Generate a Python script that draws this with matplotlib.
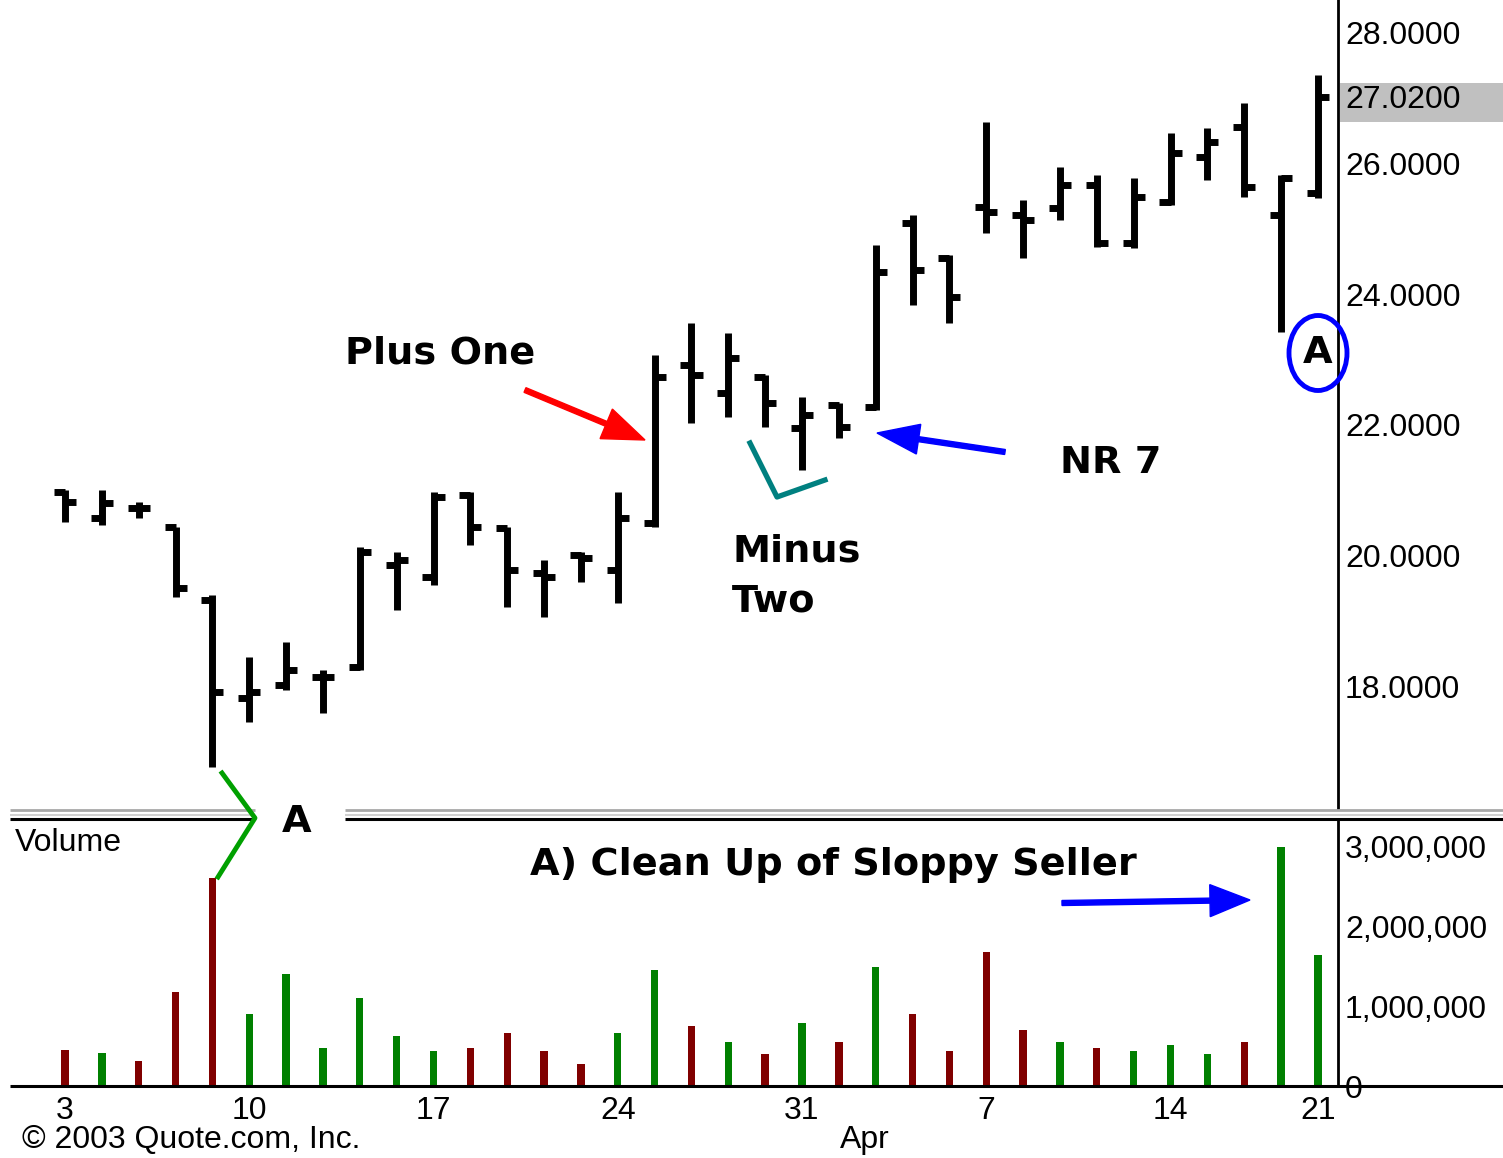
import numpy as np
import matplotlib.pyplot as plt
from matplotlib.patches import Ellipse, Rectangle

# daily bars, 3 Mar - 21 Apr 2003
opens = [20.97, 20.57, 20.73, 20.43, 19.32, 17.82, 18.02, 18.14, 18.29, 19.85,
         19.67, 20.93, 20.42, 19.73, 20.01, 19.78, 20.50, 22.92, 22.49, 22.73,
         21.95, 22.30, 22.27, 25.09, 24.55, 25.34, 25.21, 25.32, 25.67, 24.78,
         25.41, 26.10, 26.56, 25.21, 25.55]
highs = [21.00, 21.00, 20.82, 20.43, 19.39, 18.44, 18.67, 18.25, 20.13, 20.05,
         20.97, 20.97, 20.43, 19.93, 20.05, 20.97, 23.07, 23.56, 23.41, 22.76,
         22.43, 22.33, 24.75, 25.21, 24.60, 26.64, 25.44, 25.95, 25.83, 25.78,
         26.47, 26.55, 26.93, 25.83, 27.36]
lows = [20.51, 20.47, 20.57, 19.36, 16.76, 17.45, 17.94, 17.59, 18.25, 19.16,
        19.55, 20.16, 19.21, 19.06, 19.59, 19.27, 20.43, 22.03, 22.12, 21.97,
        21.31, 21.80, 22.23, 23.83, 23.56, 24.94, 24.55, 25.14, 24.72, 24.71,
        25.37, 25.75, 25.49, 23.42, 25.47]
closes = [20.82, 20.80, 20.73, 19.50, 17.91, 17.91, 18.25, 18.14, 20.05, 19.93,
          20.89, 20.43, 19.78, 19.67, 19.96, 20.57, 22.73, 22.76, 23.02, 22.33,
          22.15, 21.97, 24.34, 24.37, 23.96, 25.26, 25.14, 25.67, 24.78, 25.49,
          26.16, 26.33, 25.64, 25.78, 27.02]
# volume in shares
volume = [450e3, 410e3, 310e3, 1.18e6, 2.61e6, 900e3, 1.41e6, 480e3, 1.10e6, 630e3,
          440e3, 480e3, 660e3, 440e3, 280e3, 660e3, 1.45e6, 750e3, 550e3, 400e3,
          790e3, 550e3, 1.49e6, 900e3, 440e3, 1.68e6, 700e3, 550e3, 480e3, 440e3,
          510e3, 400e3, 550e3, 3.0e6, 1.64e6]
up = [0, 1, 0, 0, 0, 1, 1, 1, 1, 1, 1, 0, 0, 0, 0, 1, 1, 0, 1, 0,
      1, 0, 1, 0, 0, 0, 0, 1, 0, 1, 1, 1, 0, 1, 1]

date_ticks = [0, 5, 10, 15, 20, 25, 30, 34]
date_labels = ['3', '10', '17', '24', '31', '7', '14', '21']
price_ticks = [18, 20, 22, 24, 26, 27.02, 28]
vol_ticks = [0, 1e6, 2e6, 3e6]

W, H = 1503, 1158
plt.rcParams['font.family'] = ['Liberation Sans', 'DejaVu Sans']

fig = plt.figure(figsize=(W / 100, H / 100), dpi=100)

# price panel
ax_p = fig.add_axes([0, 1 - 808 / H, 1338 / W, 808 / H])
x = np.arange(len(opens))
ax_p.vlines(x, lows, highs, color='black', lw=5, capstyle='butt')
ax_p.hlines(opens, x - 0.3, x, color='black', lw=5)
ax_p.hlines(closes, x, x + 0.3, color='black', lw=5)
ax_p.set_xlim(-1.764, 34.545)
ax_p.set_ylim(16.132, 28.505)
for s in ['left', 'top', 'bottom']:
    ax_p.spines[s].set_visible(False)
ax_p.spines['right'].set_linewidth(2)
ax_p.set_xticks([])
ax_p.yaxis.tick_right()
ax_p.set_yticks(price_ticks)
ax_p.set_yticklabels(['%.4f' % v for v in price_ticks])
ax_p.tick_params(axis='y', length=0, pad=5, labelsize=23)
# highlighted last price
ax_p.add_patch(Rectangle((1340 / W, 1 - 122 / H), 163 / W, 39 / H,
                         transform=fig.transFigure, facecolor='#c0c0c0',
                         edgecolor='none', clip_on=False, zorder=0))

# volume panel
ax_v = fig.add_axes([0, 1 - 1086 / H, 1338 / W, (1086 - 819) / H])
colors = ['#008000' if u else '#800000' for u in up]
ax_v.bar(x, volume, width=0.2, color=colors)
ax_v.set_xlim(-1.764, 34.545)
ax_v.set_ylim(0, 3.35e6)
for s in ['left', 'top', 'bottom']:
    ax_v.spines[s].set_visible(False)
ax_v.spines['right'].set_linewidth(2)
ax_v.yaxis.tick_right()
ax_v.set_yticks(vol_ticks)
ax_v.set_yticklabels(['{:,.0f}'.format(v) for v in vol_ticks])
ax_v.tick_params(axis='y', length=0, pad=5, labelsize=23)
ax_v.set_xticks(date_ticks)
ax_v.set_xticklabels(date_labels)
ax_v.tick_params(axis='x', length=0, pad=7, labelsize=23)

# overlay in pixel coordinates for the hand-drawn markup
ov = fig.add_axes([0, 0, 1, 1])
ov.set_xlim(0, W)
ov.set_ylim(H, 0)
ov.axis('off')
ov.patch.set_alpha(0)

for seg in [(10, 255), (345, W)]:
    ov.plot(seg, [810, 810], color='#a8a8a8', lw=2, solid_capstyle='butt')
    ov.plot(seg, [815, 815], color='#d0d0d0', lw=1.5, solid_capstyle='butt')
    ov.plot(seg, [819, 819], color='black', lw=2.2, solid_capstyle='butt')
ov.plot([10, W], [1086, 1086], color='black', lw=2.2, solid_capstyle='butt')

bold = dict(family='DejaVu Sans', fontweight='bold', fontsize=27.5, color='black')
ov.text(345, 353, 'Plus One', va='center', ha='left', **bold)
ov.text(1060, 463, 'NR 7', va='center', ha='left', **bold)
ov.text(732, 551, 'Minus', va='center', ha='left', **bold)
ov.text(732, 601, 'Two', va='center', ha='left', **bold)
ov.text(530, 865, 'A) Clean Up of Sloppy Seller', va='center', ha='left', **bold)
ov.text(297, 822, 'A', va='center', ha='center', **bold)
ov.text(1318, 353, 'A', va='center', ha='center', **bold)
ov.add_patch(Ellipse((1318, 353), 58, 75, fill=False, edgecolor='#0000ff', lw=3.5))

ov.text(15, 843, 'Volume', va='center', ha='left', fontsize=23)
ov.text(865, 1140, 'Apr', va='center', ha='center', fontsize=23)
ov.text(22, 1140, '\u00a9 2003 Quote.com, Inc.', va='center', ha='left', fontsize=23)

ov.arrow(525, 390, 120, 50, width=5, head_width=32, head_length=42,
         length_includes_head=True, color='#ff0000')
ov.arrow(1005, 452, -128, -19, width=5, head_width=30, head_length=42,
         length_includes_head=True, color='#0000ff')
ov.arrow(1062, 903, 188, -3, width=5, head_width=32, head_length=40,
         length_includes_head=True, color='#0000ff')

ov.plot([750, 777, 825], [443, 497, 480], color='#008080', lw=3.8)
ov.plot([222, 255, 218], [773, 818, 877], color='#00a000', lw=3.5)

fig.savefig('out.png', dpi=100)
